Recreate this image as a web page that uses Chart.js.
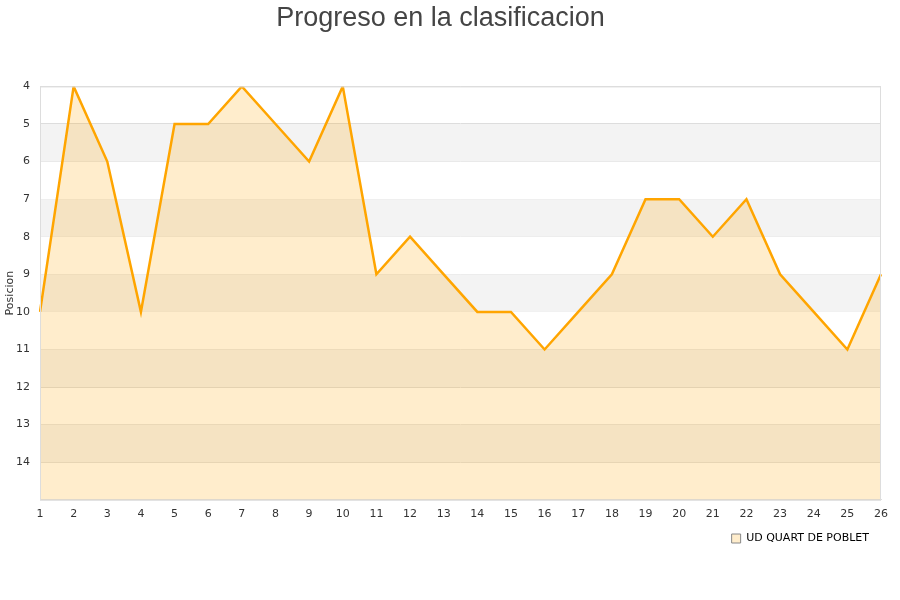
<!DOCTYPE html>
<html>
<head>
<meta charset="utf-8">
<script src="https://cdn.jsdelivr.net/npm/chart.js@4"></script>
<style>
  html, body { margin: 0; padding: 0; background: #fff; }
  #wrap { width: 900px; height: 600px; }
</style>
</head>
<body>
<div id="wrap"><canvas id="posChart"></canvas></div>
<script>
// Jornadas along the x-axis
var jornadas = ["1","2","3","4","5","6","7","8","9","10","11","12","13","14","15","16","17","18","19","20","21","22","23","24","25","26"];
// Position after each jornada
var posiciones = [10,4,6,10,5,5,4,5,6,4,9,8,9,10,10,11,10,9,7,7,8,7,9,10,11,9];
var teamName = "UD QUART DE POBLET";
// Rows shaded grey (start of each band)
var greyBands = [5,7,9,11,13];

// alternating row bands plus frame around the plot area
var bandsPlugin = {
  id: "bands",
  beforeDatasetsDraw: function (chart) {
    var ctx = chart.ctx, area = chart.chartArea, y = chart.scales.y;
    ctx.save();
    ctx.fillStyle = "#f3f3f3";
    greyBands.forEach(function (b) {
      var top = y.getPixelForValue(b), bot = y.getPixelForValue(b + 1);
      ctx.fillRect(area.left, top, area.right - area.left, bot - top);
    });
    ctx.restore();
  },
  afterDraw: function (chart) {
    var ctx = chart.ctx, area = chart.chartArea;
    ctx.save();
    ctx.strokeStyle = "#dddddd";
    ctx.lineWidth = 1;
    ctx.strokeRect(area.left + 0.5, area.top + 0.5, area.right - area.left - 1, area.bottom - area.top);
    ctx.restore();
  }
};

new Chart(document.getElementById("posChart"), {
  type: "line",
  data: {
    labels: jornadas,
    datasets: [
      {
        label: teamName,
        data: posiciones,
        borderColor: "#ffa500",
        backgroundColor: "rgba(255,165,0,0.2)",
        borderWidth: 2.5,
        pointRadius: 0,
        tension: 0,
        fill: { value: 15 }
      }
    ]
  },
  options: {
    responsive: true,
    maintainAspectRatio: false,
    animation: false,
    layout: { padding: { left: 0, right: 19, top: 2, bottom: 46 } },
    plugins: {
      title: {
        display: true,
        text: "Progreso en la clasificacion",
        color: "#444",
        font: { family: "Liberation Sans, Arial, sans-serif", size: 27, weight: "normal" },
        padding: { top: 0, bottom: 52 }
      },
      legend: {
        position: "bottom",
        align: "end",
        labels: {
          color: "#000",
          boxWidth: 9,
          boxHeight: 9,
          padding: 12,
          font: { family: "DejaVu Sans, sans-serif", size: 11 },
          generateLabels: function (chart) {
            var items = Chart.defaults.plugins.legend.labels.generateLabels(chart);
            items.forEach(function (it) {
              it.strokeStyle = "#888";
              it.lineWidth = 1;
              it.fillStyle = "#ffedcc";
            });
            return items;
          }
        }
      },
      tooltip: { enabled: false }
    },
    scales: {
      x: {
        offset: false,
        grid: { display: false },
        border: { color: "#dddddd" },
        ticks: { color: "#333", padding: 0, maxRotation: 0, autoSkip: false, font: { family: "DejaVu Sans, sans-serif", size: 11 } }
      },
      y: {
        reverse: true,
        min: 4,
        max: 15,
        afterFit: function (scale) { scale.width = 40; },
        grid: { color: "#dddddd", drawTicks: false },
        border: { display: false },
        title: { display: true, text: "Posicion", color: "#333", padding: { top: 4, bottom: 0 }, font: { family: "DejaVu Sans, sans-serif", size: 11 } },
        ticks: {
          stepSize: 1,
          padding: 10,
          color: "#333",
          font: { family: "DejaVu Sans, sans-serif", size: 11 },
          callback: function (v) { return v === 15 ? "" : v; }
        }
      }
    }
  },
  plugins: [bandsPlugin]
});
</script>
</body>
</html>
